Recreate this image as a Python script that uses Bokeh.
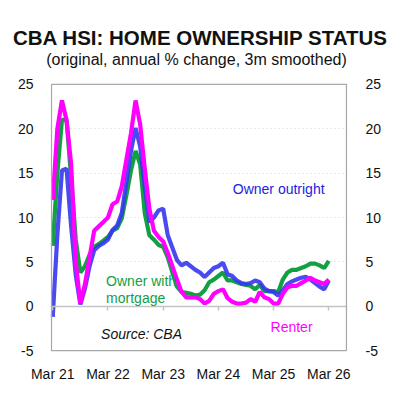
from bokeh.plotting import figure
from bokeh.layouts import column
from bokeh.models import (Range1d, FixedTicker, LinearAxis, Label, BoxAnnotation, Div)
from bokeh.embed import file_html
from bokeh.resources import INLINE

# months since Mar 2021 (monthly, Mar 21 .. Mar 26)
months = list(range(61))
tick_months = [0, 12, 24, 36, 48, 60]
tick_labels = ["Mar 21", "Mar 22", "Mar 23", "Mar 24", "Mar 25", "Mar 26"]
y_ticks = [-5, 0, 5, 10, 15, 20, 25]

owner_outright = [
    -1.2, 8.0, 15.3, 15.5, 9.0, 3.5, 0.2, 2.0, 4.5, 6.3,
    6.8, 7.1, 7.5, 8.6, 9.1, 10.5, 14.0, 17.5, 20.1, 18.0,
    13.5, 9.5, 10.0, 10.8, 11.0, 8.0, 6.6, 5.2, 4.6, 4.9,
    4.5, 4.1, 3.8, 3.3, 3.8, 4.3, 4.5, 4.9, 3.6, 3.4,
    2.9, 2.6, 2.5, 2.6, 2.9, 2.7, 2.0, 1.7, 1.6, 1.2,
    1.8, 2.5, 2.8, 3.0, 3.2, 3.3, 3.0, 2.6, 2.2, 1.9,
    2.9]
owner_mortgage = [
    6.8, 15.0, 21.0, 21.0, 14.5, 7.5, 3.8, 4.5, 5.8, 6.7,
    7.0, 7.4, 7.8, 8.5, 8.8, 9.9, 12.5, 15.3, 17.5, 16.0,
    10.5, 8.0, 7.5, 6.9, 6.7, 5.5, 3.8, 2.2, 1.6, 1.5,
    1.4, 1.2, 1.3, 1.8, 2.7, 3.0, 3.4, 3.8, 2.9, 2.9,
    2.7, 2.5, 2.4, 2.3, 1.9, 2.4, 1.7, 1.7, 1.7, 1.6,
    3.0, 3.8, 4.1, 4.1, 4.3, 4.5, 4.8, 4.8, 4.6, 4.3,
    5.1]
renter = [
    12.0, 20.0, 23.2, 21.0, 16.0, 5.0, 0.3, 2.5, 5.5, 8.5,
    9.0, 9.5, 10.0, 11.5, 11.8, 13.5, 16.5, 19.5, 23.2, 20.5,
    15.5, 11.0, 8.5, 7.8, 7.3, 6.0, 4.5, 3.0, 1.6, 1.0,
    1.0, 1.0, 0.8, 0.3, 0.6, 1.4, 1.7, 1.9, 0.9, 0.5,
    0.3, 0.3, 0.4, 0.8, 0.5, 1.6, 1.0, 0.8, 0.3, 0.3,
    1.4, 2.1, 2.3, 2.3, 2.6, 2.9, 3.2, 2.9, 2.7, 2.5,
    3.0]

TITLE = "CBA HSI: HOME OWNERSHIP STATUS"
SUBTITLE = "(original, annual % change, 3m smoothed)"

BLUE = "#3636f0"
GREEN = "#13a043"
MAGENTA = "#ff00ff"
FONT = "Liberation Sans"
FRAME = "#a8a8a8"
W = 384
TOP_H = 76

# ---- title strip ----
head_html = (
    '<div style="position:relative;width:400px;height:76px;'
    "font-family:'Liberation Sans',Arial,sans-serif;color:#111111;\">"
    '<div style="position:absolute;left:0px;width:400px;top:28px;'
    'text-align:center;font-size:20.5px;font-weight:bold;line-height:20px;'
    f'white-space:nowrap;">{TITLE}</div>'
    '<div style="position:absolute;left:0px;width:393px;top:52px;'
    'text-align:center;font-size:16px;line-height:16px;'
    f'white-space:nowrap;">{SUBTITLE}</div>'
    '</div>'
)
head = Div(text=head_html, width=400, height=TOP_H, margin=(0, 0, 0, 0))

# ---- main chart ----
p = figure(width=W, height=W - TOP_H, output_backend="svg", toolbar_location=None,
           x_range=Range1d(-0.488, 64.06), y_range=Range1d(-5.222, 25.222),
           min_border_left=50, min_border_right=30, min_border_bottom=28,
           min_border_top=6, x_axis_location=None, y_axis_location=None)
p.background_fill_color = "white"
p.border_fill_color = "white"
p.outline_line_color = None

p.xgrid.visible = False
p.ygrid.ticker = FixedTicker(ticks=[5, 10, 15, 20])
p.ygrid.grid_line_color = "#d4d4d4"
p.ygrid.grid_line_dash = "1 3"
p.ygrid.grid_line_width = 1

overrides_y = {t: str(t) for t in y_ticks}

def yaxis(standoff):
    ax = LinearAxis(ticker=FixedTicker(ticks=y_ticks))
    ax.major_label_overrides = overrides_y
    ax.axis_line_color = None
    ax.major_tick_line_color = None
    ax.minor_tick_line_color = None
    ax.major_label_standoff = standoff
    ax.major_label_text_font = FONT
    ax.major_label_text_font_size = "14px"
    ax.major_label_text_color = "#111111"
    return ax

p.add_layout(yaxis(11), "left")
p.add_layout(yaxis(12), "right")

xax = LinearAxis(ticker=FixedTicker(ticks=tick_months))
xax.major_label_overrides = dict(zip(tick_months, tick_labels))
xax.axis_line_color = None
xax.major_tick_line_color = None
xax.minor_tick_line_color = None
xax.major_label_standoff = 7
xax.major_label_text_font = FONT
xax.major_label_text_font_size = "14px"
xax.major_label_text_color = "#111111"
p.add_layout(xax, "below")

zax = LinearAxis(ticker=FixedTicker(ticks=tick_months), fixed_location=0)
zax.axis_line_color = "#c4c4c4"
zax.axis_line_width = 1.5
zax.major_tick_line_color = "#c4c4c4"
zax.major_tick_line_width = 1.5
zax.major_tick_in = 0
zax.major_tick_out = 4
zax.minor_tick_line_color = None
zax.major_label_text_alpha = 0
zax.major_label_text_font_size = "1px"
p.add_layout(zax, "below")

p.line(months, owner_mortgage, line_color=GREEN, line_width=4.2)
p.line(months, owner_outright, line_color=BLUE, line_width=4.2, line_alpha=0.9)
p.line(months, renter, line_color=MAGENTA, line_width=4.2)

# chart border box (-5 .. 25, whole time span)
p.add_layout(BoxAnnotation(left=-0.276, right=63.84, bottom=-5, top=25,
                           fill_alpha=0, line_color=FRAME, line_width=1.3,
                           line_alpha=1))

p.add_layout(Label(x=49.1, y=13.2, text="Owner outright", text_align="center",
                   text_baseline="middle", text_color="#2222e0",
                   text_font=FONT, text_font_size="14px"))
p.add_layout(Label(x=11.6, y=3.7, text="Owner with\nmortgage", text_align="left",
                   text_baseline="top", text_color=GREEN, text_line_height=1.05,
                   text_font=FONT, text_font_size="14px"))
p.add_layout(Label(x=51.9, y=-2.3, text="Renter", text_align="center",
                   text_baseline="middle", text_color=MAGENTA,
                   text_font=FONT, text_font_size="14px"))
p.add_layout(Label(x=19.3, y=-3.1, text="Source: CBA", text_align="center",
                   text_baseline="middle", text_color="#111111",
                   text_font=FONT, text_font_size="14px", text_font_style="italic"))

layout = column(head, p, spacing=0)
open("out.html", "w").write(file_html(layout, INLINE))
